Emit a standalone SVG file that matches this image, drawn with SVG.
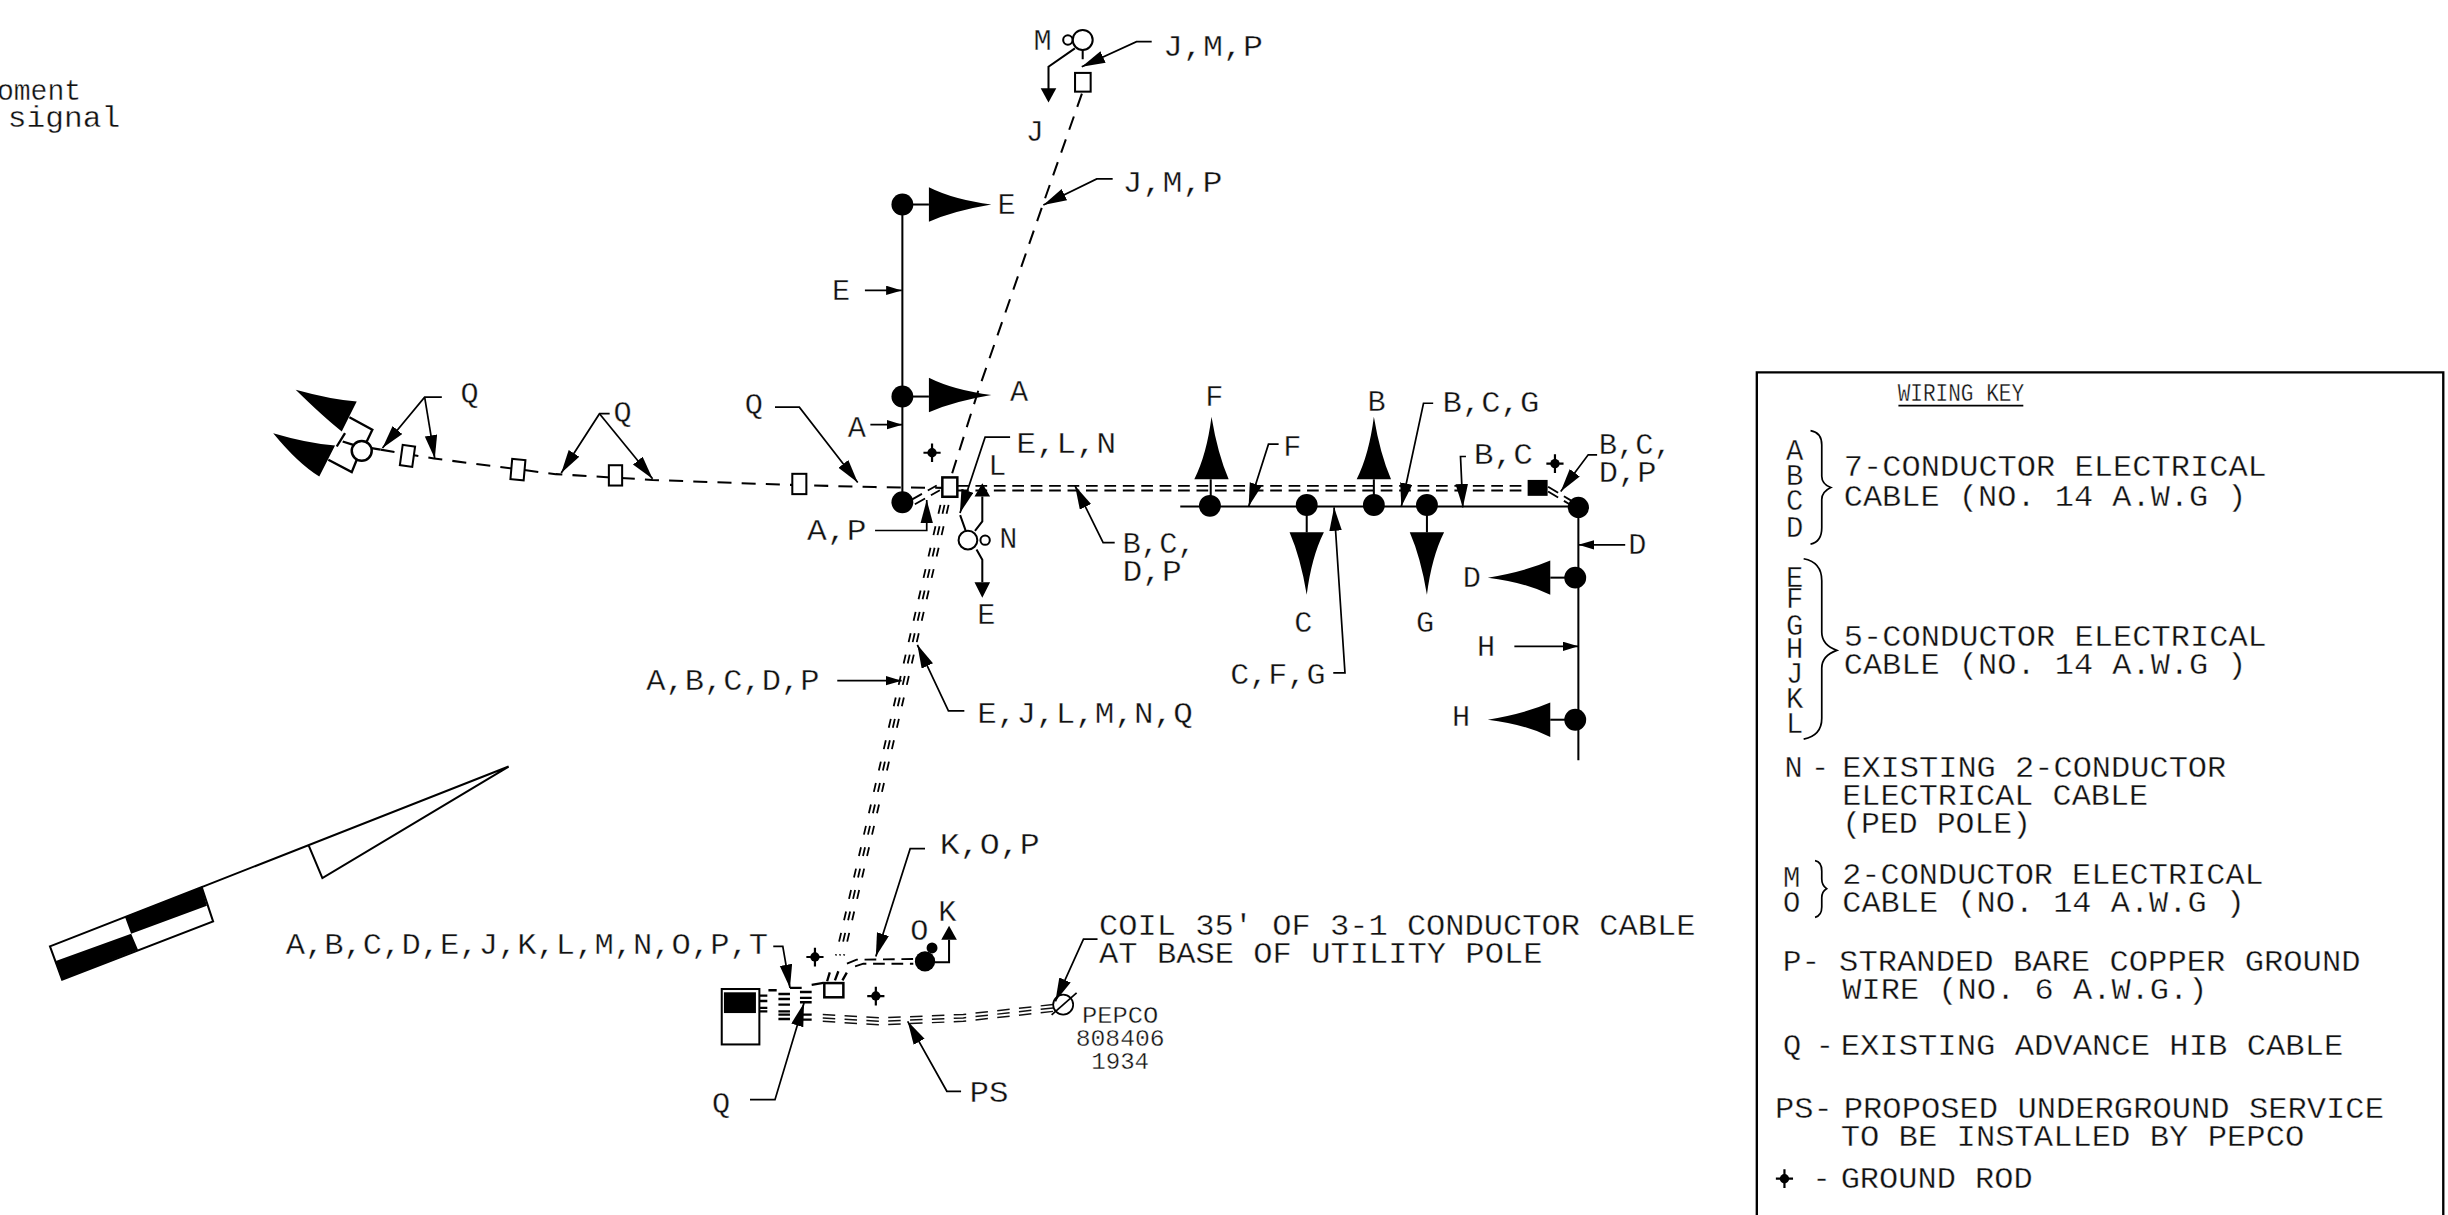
<svg xmlns="http://www.w3.org/2000/svg" xmlns:xlink="http://www.w3.org/1999/xlink" width="2448" height="1215" viewBox="0 0 2448 1215">
<style>
text{font-family:"Liberation Mono","DejaVu Sans Mono",monospace;font-size:19.4px;fill:#111;font-weight:400;stroke:#fff;stroke-width:.22px}
.s{font-size:15px}
.k{font-size:16.5px}
.st{font-size:18.5px}
.l{fill:none;stroke:#000;stroke-width:1.1}
.w{fill:none;stroke:#000;stroke-width:1.3}
.t{fill:none;stroke:#000;stroke-width:1.5}
.d{fill:none;stroke:#000;stroke-width:1.3;stroke-dasharray:9 6.5}
.dd{fill:none;stroke:#000;stroke-width:1.2;stroke-dasharray:7.5 4.3}
.h{fill:none;stroke:#000;stroke-width:1.15;stroke-dasharray:5.8 8.27}
.p{fill:none;stroke:#111;stroke-width:.95;stroke-dasharray:8 6}
.b{fill:#000}
.o{fill:#fff;stroke:#000;stroke-width:1.3}
.ah{marker-end:url(#ah)}
.as{marker-end:url(#as)}
</style>
<defs>
<marker id="ah" markerUnits="userSpaceOnUse" markerWidth="16" markerHeight="9" refX="15" refY="4" orient="auto"><path d="M0,0L15,4L0,8Z" fill="#000"/></marker>
<marker id="as" markerUnits="userSpaceOnUse" markerWidth="11" markerHeight="7" refX="10" refY="3" orient="auto"><path d="M0,0L10,3L0,6Z" fill="#000"/></marker>
<path id="wedge" d="M0,-11Q16,-3 40,0Q16,4 0,11Z" fill="#000"/>
<g id="rod"><circle r="3" fill="#000"/><path d="M0,-6V6M-5.5,0H5.5" stroke="#000" stroke-width="1.4"/></g>
</defs>
<rect width="2448" height="1215" fill="#fff"/>
<g transform="scale(1.5612)">
<g id="connectors">
<path class="w" d="M578,131V321M756,324.4H1011M1011,325V487"/>
<path class="d" d="M243.8,288L278,293.7L356,303.7L418,307.4L503,310.5L560,312L604,312.5"/>
<path class="d" d="M693,60L668,131L626.7,250L609,306"/>
<path class="dd" d="M613,311.2H975M613,314.2H975"/>
<path class="dd" d="M991.6,311.8L1006.7,320.8M991.6,314.8L1006.7,323.8"/>
<path class="dd" d="M584,320L600,311M586,323L602,314"/>
<path class="h" d="M602.4,323.4L535.4,612M605,323.4L538,612M607.6,323.4L540.6,612"/>
<path class="dd" d="M542.5,617.3L548.7,614.7L585,614.3M547.7,619L553,617.3L585,617.3"/>
<path class="t" d="M486.8,637.7H491.5M486.8,641.2H491.5M486.8,645.6H491.5M486.8,647.8H491.5M498.6,636.7H506M498.6,639.9H506M498.6,643.5H506M498.6,647.8H506M498.6,649.9H506M498.6,652.7H506M512.4,635.4H519.9M512.4,639.2H519.9M512.4,642H519.9M512.4,649.9H519.9M512.4,653.1H519.9"/>
<path class="t" d="M492.2,634.3H497.5M506,632.8H513.5M519.9,630.9L527.4,629.6"/>
<path class="p" d="M527,649.8L563.7,652L617,649.8L674.7,643.4M527,652L563.7,654.2L617,652L674.7,645.6M527,654.2L563.7,656.4L617,654.2L674.7,647.8"/>
<path class="t" d="M531.5,622.8L529.8,628.5M537,622.1L534.8,628M542.4,623L539.6,628"/>
<path class="l ah" d="M283,254.4H272L245,287"/>
<path class="l ah" d="M272,254.4L278.5,293.7"/>
<path class="l ah" d="M390.5,265H384L359.5,303"/>
<path class="l ah" d="M384,265L418,306.7"/>
<path class="l ah" d="M496.4,260.8H512L549.4,309"/>
<path class="l as" d="M557.5,272H578"/>
<path class="l as" d="M554,186H577.6"/>
<path class="l ah" d="M737.7,26.7H728L692.9,42.7"/>
<path class="l ah" d="M712.7,114.6H702.5L668.3,131.3"/>
<path class="l ah" d="M647,280H631L614.9,328.6"/>
<path class="l ah" d="M560.5,339.8H593.6V320.2"/>
<path class="l ah" d="M714,347.5H706.6L688.6,311.2"/>
<path class="l ah" d="M617.7,455.3H607.5L587.6,413"/>
<path class="l as" d="M536.3,436H577.5"/>
<path class="l ah" d="M819,284.5H812.5L799.8,324.4"/>
<path class="l ah" d="M918,258.3H911.8L897.6,324.4"/>
<path class="l ah" d="M939,292.4H935.5L937,325"/>
<path class="l ah" d="M1023,291.3H1017.3L999.7,314.8"/>
<path class="l ah" d="M854,431H861.5L854.5,325"/>
<path class="l as" d="M1041,349H1011"/>
<path class="l as" d="M970,414H1011"/>
<path class="l ah" d="M592.5,543.6H583L561,612.6"/>
<path class="l ah" d="M495.3,606.2H501.4L506,632.8"/>
<path class="l ah" d="M703,601.5H694L676,641.4"/>
<path class="l ah" d="M615.6,699H606.5L581.4,654.2"/>
<path class="l ah" d="M480.4,704.4H496.4L515,642.4"/>
</g>
<g id="north-arrow">
<path class="w" d="M129.2,568.2L325.8,491L206.5,562.4L197.7,541.5"/>
<path class="o" d="M32,606.2L129.2,568.2L136.5,590.2L39.8,627.5Z"/>
<path class="b" d="M80,587.2L129.2,568.2L132.5,580.2L84,598.1ZM35.3,615.7L84,598.1L88.4,608.4L39.8,627.5Z"/>
</g>
<g id="signal-Q">
<path class="b" d="M189.4,249.7Q212,256 228.5,257.2L218.9,276.4Q207,267 189.4,249.7Z"/>
<path class="b" d="M175,277.5Q197,284 214.6,285.4L204.5,305.2Q191,297 175,277.5Z"/>
<path class="t" d="M223.8,267.2L238.5,275.3L234.9,282.8M210.3,294.5L225.3,302.4L228.5,294.5M215.7,286L221,277.5M219.5,282.8L226.3,285M238,287L243.8,288"/>
<circle class="o" cx="231.7" cy="288.8" r="6.4" style="stroke-width:1.6"/>
</g>
<g id="pull-boxes-Q">
<rect class="o" x="257" y="285.5" width="8" height="13" transform="rotate(8 261 292)"/>
<rect class="o" x="327.5" y="294.3" width="8.5" height="13" transform="rotate(5 331.7 300.8)"/>
<rect class="o" x="390" y="298" width="8.5" height="13"/>
<rect class="o" x="507.5" y="303.5" width="9" height="13"/>
</g>
<g id="head-E"><path class="w" d="M578,131H595"/><circle class="b" cx="578" cy="131" r="7"/><use href="#wedge" xlink:href="#wedge" transform="translate(595,131)"/></g>
<g id="head-A"><path class="w" d="M578,254H595"/><circle class="b" cx="578" cy="254" r="7"/><use href="#wedge" xlink:href="#wedge" transform="translate(595,253)"/></g>
<g id="pole-A"><circle class="b" cx="578" cy="321.7" r="7"/></g>
<g id="head-F"><path class="w" d="M775.5,324V307"/><circle class="b" cx="775" cy="324" r="7"/><use href="#wedge" xlink:href="#wedge" transform="translate(776,307) rotate(-90)"/></g>
<g id="head-B"><path class="w" d="M880,323V307"/><circle class="b" cx="880" cy="323.5" r="7"/><use href="#wedge" xlink:href="#wedge" transform="translate(880,307) rotate(-90)"/></g>
<g id="head-C"><path class="w" d="M837,323V341"/><circle class="b" cx="837" cy="323.5" r="7"/><use href="#wedge" xlink:href="#wedge" transform="translate(837,341) rotate(90)"/></g>
<g id="head-G"><path class="w" d="M914,323V341"/><circle class="b" cx="914" cy="323.5" r="7"/><use href="#wedge" xlink:href="#wedge" transform="translate(914,341) rotate(90)"/></g>
<g id="head-D"><path class="w" d="M1009,370H993"/><circle class="b" cx="1009" cy="370" r="7"/><use href="#wedge" xlink:href="#wedge" transform="translate(993,370) rotate(180)"/></g>
<g id="head-H"><path class="w" d="M1009,461H993"/><circle class="b" cx="1009" cy="461" r="7"/><use href="#wedge" xlink:href="#wedge" transform="translate(993,461) rotate(180)"/></g>
<g id="pole-corner"><circle class="b" cx="1011" cy="325" r="6.8"/></g>
<g id="box-black"><rect class="b" x="978.5" y="307.4" width="12.8" height="10.2"/></g>
<g id="box-main"><rect class="o" x="603.6" y="305.8" width="9.6" height="12.4" style="stroke-width:1.6"/></g>
<g id="box-south"><rect class="o" x="528" y="629.7" width="12.2" height="9.1" style="stroke-width:1.6"/></g>
<g id="pole-top">
<path class="w" d="M693.5,31V38M688.5,31L671.6,42.7V57"/>
<path class="b" d="M666.6,56.6H676.6L671.6,65.7Z"/>
<circle class="o" cx="693.5" cy="25.6" r="6.4"/><circle class="o" cx="684" cy="25.6" r="3"/>
<rect class="o" x="688.6" y="46.7" width="10" height="12"/>
</g>
<g id="pole-N">
<path class="w" d="M615,330L618.6,340M629.2,318V334L624.5,340M625.5,352L629.2,358.6V373"/>
<path class="b" d="M624.2,318H634.2L629.2,309.5ZM624.2,373H634.2L629.2,382.9Z"/>
<circle class="o" cx="620" cy="346" r="6"/><circle class="o" cx="631" cy="346" r="3"/>
</g>
<g id="pole-K">
<path class="w" d="M597,616.4H607.9V601.9"/>
<path class="b" d="M602.9,601.9H612.9L607.9,592.9Z"/>
<circle class="b" cx="592.5" cy="615.8" r="6.5"/><circle class="b" cx="597" cy="607.2" r="3.5"/>
</g>
<g id="cabinet">
<rect class="o" x="462.3" y="633.5" width="24.1" height="35.5"/>
<rect class="b" x="463.7" y="635.6" width="20.5" height="13.3"/>
</g>
<g id="utility-pole">
<circle class="l" cx="681" cy="643.5" r="6.4"/>
<path class="l" d="M673.6,650L689.6,636"/>
</g>
<g id="ground-rods">
<use href="#rod" xlink:href="#rod" x="597" y="290"/>
<use href="#rod" xlink:href="#rod" x="996" y="297"/>
<use href="#rod" xlink:href="#rod" x="522" y="613"/>
<use href="#rod" xlink:href="#rod" x="561" y="638"/>
</g>
<g id="labels">
<text><tspan x="-2" y="64" textLength="54" lengthAdjust="spacingAndGlyphs">oment</tspan><tspan x="5" y="81.5" textLength="72" lengthAdjust="spacingAndGlyphs">signal</tspan></text>
<text x="662" y="32">M</text>
<text x="745" y="36" textLength="64" lengthAdjust="spacingAndGlyphs">J,M,P</text>
<text x="657" y="90">J</text>
<text x="719" y="123" textLength="64" lengthAdjust="spacingAndGlyphs">J,M,P</text>
<text x="639" y="137">E</text>
<text x="533" y="192">E</text>
<text x="647" y="257">A</text>
<text x="295" y="258">Q</text>
<text x="393" y="270">Q</text>
<text x="477" y="265">Q</text>
<text x="543" y="280">A</text>
<text x="651" y="290" textLength="64" lengthAdjust="spacingAndGlyphs">E,L,N</text>
<text x="633" y="304">L</text>
<text x="772" y="260">F</text>
<text x="876" y="263">B</text>
<text x="924" y="264" textLength="62" lengthAdjust="spacingAndGlyphs">B,C,G</text>
<text x="822" y="292">F</text>
<text x="944" y="297" textLength="38" lengthAdjust="spacingAndGlyphs">B,C</text>
<text><tspan x="1024" y="291" textLength="47" lengthAdjust="spacingAndGlyphs">B,C,</tspan><tspan x="1024" y="309" textLength="37" lengthAdjust="spacingAndGlyphs">D,P</tspan></text>
<text x="1043" y="355">D</text>
<text x="937" y="376">D</text>
<text x="946" y="420">H</text>
<text x="930" y="465">H</text>
<text x="829" y="405">C</text>
<text x="907" y="405">G</text>
<text x="788" y="438" textLength="61" lengthAdjust="spacingAndGlyphs">C,F,G</text>
<text x="640" y="351">N</text>
<text x="626" y="400">E</text>
<text x="517" y="346" textLength="38" lengthAdjust="spacingAndGlyphs">A,P</text>
<text><tspan x="719" y="354" textLength="47" lengthAdjust="spacingAndGlyphs">B,C,</tspan><tspan x="719" y="372" textLength="38" lengthAdjust="spacingAndGlyphs">D,P</tspan></text>
<text x="414" y="442" textLength="111" lengthAdjust="spacingAndGlyphs">A,B,C,D,P</text>
<text x="626" y="463" textLength="138" lengthAdjust="spacingAndGlyphs">E,J,L,M,N,Q</text>
<text x="602" y="547" textLength="64" lengthAdjust="spacingAndGlyphs">K,O,P</text>
<text x="601" y="590">K</text>
<text x="583" y="602">O</text>
<text x="183" y="611" textLength="309" lengthAdjust="spacingAndGlyphs">A,B,C,D,E,J,K,L,M,N,O,P,T</text>
<text x="456" y="713">Q</text>
<text x="621" y="706" textLength="25" lengthAdjust="spacingAndGlyphs">PS</text>
<text><tspan x="704" y="599" textLength="382" lengthAdjust="spacingAndGlyphs">COIL 35' OF 3-1 CONDUCTOR CABLE</tspan><tspan x="704" y="617" textLength="284" lengthAdjust="spacingAndGlyphs">AT BASE OF UTILITY POLE</tspan></text>
<text class="s"><tspan x="693" y="655" textLength="49" lengthAdjust="spacingAndGlyphs">PEPCO</tspan><tspan x="689" y="670" textLength="57" lengthAdjust="spacingAndGlyphs">808406</tspan><tspan x="699" y="685" textLength="37" lengthAdjust="spacingAndGlyphs">1934</tspan></text>
</g>
<g id="wiring-key">
<path class="t" d="M1125.3,780V238.5H1565V780"/>
<text class="k" x="1215.5" y="257" textLength="81" lengthAdjust="spacingAndGlyphs">WIRING KEY</text>
<path class="l" d="M1216,259.8H1296"/>
<path class="l" d="M1159.7,275.8Q1166.9,277 1166.9,285V305Q1166.9,310 1172.7,312.3Q1166.9,315 1166.9,320V338Q1166.9,347 1159.7,348.5"/>
<path class="l" d="M1155.3,357.9Q1166.9,360 1166.9,372V405Q1166.9,413 1176.5,416.6Q1166.9,420 1166.9,428V460Q1166.9,471 1155.3,473.4"/>
<path class="l" d="M1162.6,551.3Q1166.9,552 1166.9,558V563Q1166.9,567 1170,569.2Q1166.9,571 1166.9,575V581Q1166.9,586.5 1162.6,587.6"/>
<text class="st"><tspan x="1144" y="294.6">A</tspan><tspan x="1144" y="310.7">B</tspan><tspan x="1144" y="326.7">C</tspan><tspan x="1144" y="344">D</tspan></text>
<text class="st"><tspan x="1144" y="375.7">E</tspan><tspan x="1144" y="389.5">F</tspan><tspan x="1144" y="406.6">G</tspan><tspan x="1144" y="421.5">H</tspan><tspan x="1144" y="437.5">J</tspan><tspan x="1144" y="453.5">K</tspan><tspan x="1144" y="469.5">L</tspan></text>
<text><tspan x="1181" y="305" textLength="271" lengthAdjust="spacingAndGlyphs">7-CONDUCTOR ELECTRICAL</tspan><tspan x="1181" y="324" textLength="258" lengthAdjust="spacingAndGlyphs">CABLE (NO. 14 A.W.G )</tspan></text>
<text><tspan x="1181" y="413.6" textLength="271" lengthAdjust="spacingAndGlyphs">5-CONDUCTOR ELECTRICAL</tspan><tspan x="1181" y="431.7" textLength="258" lengthAdjust="spacingAndGlyphs">CABLE (NO. 14 A.W.G )</tspan></text>
<text x="1143" y="497.6">N</text><text x="1160" y="497.6">-</text>
<text><tspan x="1180" y="497.6" textLength="246" lengthAdjust="spacingAndGlyphs">EXISTING 2-CONDUCTOR</tspan><tspan x="1180" y="515.5" textLength="196" lengthAdjust="spacingAndGlyphs">ELECTRICAL CABLE</tspan><tspan x="1180" y="533.6" textLength="121" lengthAdjust="spacingAndGlyphs">(PED POLE)</tspan></text>
<text class="st"><tspan x="1142" y="568">M</tspan><tspan x="1142" y="584">O</tspan></text>
<text><tspan x="1180" y="566" textLength="270" lengthAdjust="spacingAndGlyphs">2-CONDUCTOR ELECTRICAL</tspan><tspan x="1180" y="584" textLength="258" lengthAdjust="spacingAndGlyphs">CABLE (NO. 14 A.W.G )</tspan></text>
<text x="1142" y="622" textLength="24" lengthAdjust="spacingAndGlyphs">P-</text>
<text><tspan x="1178" y="622" textLength="334" lengthAdjust="spacingAndGlyphs">STRANDED BARE COPPER GROUND</tspan><tspan x="1180" y="639.7" textLength="234" lengthAdjust="spacingAndGlyphs">WIRE (NO. 6 A.W.G.)</tspan></text>
<text x="1142" y="676">Q</text><text x="1163" y="676">-</text>
<text x="1179" y="676" textLength="322" lengthAdjust="spacingAndGlyphs">EXISTING ADVANCE HIB CABLE</text>
<text x="1137" y="716" textLength="37" lengthAdjust="spacingAndGlyphs">PS-</text>
<text><tspan x="1181" y="716" textLength="346" lengthAdjust="spacingAndGlyphs">PROPOSED UNDERGROUND SERVICE</tspan><tspan x="1179" y="734" textLength="297" lengthAdjust="spacingAndGlyphs">TO BE INSTALLED BY PEPCO</tspan></text>
<use href="#rod" xlink:href="#rod" x="1143" y="755"/>
<text x="1161" y="761">-</text>
<text x="1179" y="761" textLength="123" lengthAdjust="spacingAndGlyphs">GROUND ROD</text>
</g>
</g>
</svg>
